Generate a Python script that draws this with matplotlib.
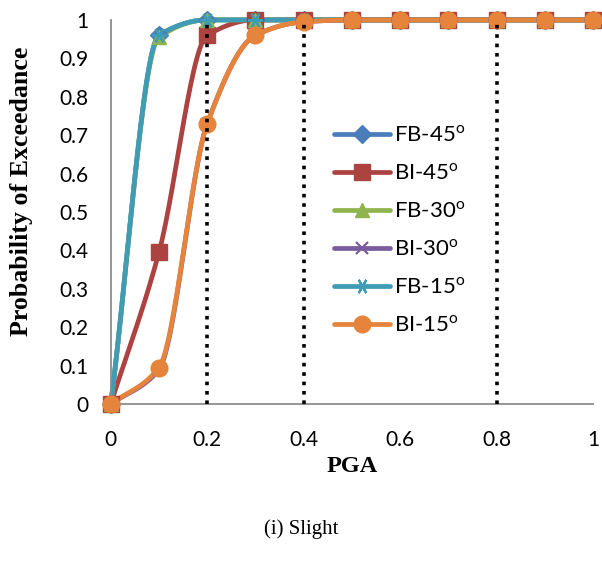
import numpy as np
import matplotlib.pyplot as plt

# ---data-------------------------------------------------------------
pga = [0.0, 0.1, 0.2, 0.3, 0.4, 0.5, 0.6, 0.7, 0.8, 0.9, 1.0]
fb_45 = [0.0, 0.96, 1.0, 1.0, 1.0, 1.0, 1.0, 1.0, 1.0, 1.0, 1.0]
bi_45 = [0.0, 0.395, 0.96, 1.0, 1.0, 1.0, 1.0, 1.0, 1.0, 1.0, 1.0]
fb_30 = [0.0, 0.955, 1.0, 1.0, 1.0, 1.0, 1.0, 1.0, 1.0, 1.0, 1.0]
bi_30 = [0.0, 0.09, 0.73, 0.96, 0.995, 1.0, 1.0, 1.0, 1.0, 1.0, 1.0]
fb_15 = [0.0, 0.96, 1.0, 1.0, 1.0, 1.0, 1.0, 1.0, 1.0, 1.0, 1.0]
bi_15 = [0.0, 0.095, 0.73, 0.96, 0.995, 1.0, 1.0, 1.0, 1.0, 1.0, 1.0]
labels = ["FB-45", "BI-45", "FB-30", "BI-30", "FB-15", "BI-15"]
damage_lines = [0.2, 0.4, 0.8]

series = [fb_45, bi_45, fb_30, bi_30, fb_15, bi_15]
colours = ["#4A7EBB", "#AC4341", "#8EB34F", "#7A5C9E", "#3F9CB4", "#E5843A"]
asterisk = (6, 2, 90)
markers = ["D", "s", "^", "x", asterisk, "o"]
sizes = [9, 11, 10, 9, 11, 12]


def smooth(x, y, n=30):
    # smoothed line through the points, monotone so it does not overshoot
    x = np.asarray(x, dtype=float)
    y = np.asarray(y, dtype=float)
    h = np.diff(x)
    d = np.diff(y) / h
    m = np.zeros_like(y)
    m[0], m[-1] = d[0], d[-1]
    for i in range(1, len(x) - 1):
        if d[i - 1] * d[i] <= 0:
            m[i] = 0
        else:
            m[i] = 2 / (1 / d[i - 1] + 1 / d[i])
    xs, ys = [], []
    t = np.linspace(0, 1, n)
    for i in range(len(x) - 1):
        h00 = 2 * t ** 3 - 3 * t ** 2 + 1
        h10 = t ** 3 - 2 * t ** 2 + t
        h01 = -2 * t ** 3 + 3 * t ** 2
        h11 = t ** 3 - t ** 2
        xs.extend(x[i] + t * h[i])
        ys.extend(h00 * y[i] + h10 * h[i] * m[i] + h01 * y[i + 1] + h11 * h[i] * m[i + 1])
    return xs, ys


fig = plt.figure(figsize=(6.02, 5.69), dpi=100)
ax = fig.add_axes([0.184, 0.29, 0.801, 0.675])

# dotted damage-state lines sit on top of the curves
for xv in damage_lines:
    ax.plot([xv, xv], [0, 1], color="black", linestyle=(0, (1, 1.6)), lw=2.6, zorder=5)

handles = []
for vals, col, mk, ms, lab in zip(series, colours, markers, sizes, labels):
    sx, sy = smooth(pga, vals)
    ax.plot(sx, sy, color=col, lw=3.4, zorder=2, solid_capstyle="round")
    mew = 1.6 if mk in ("x", asterisk) else 1
    ax.plot(pga, vals, linestyle="none", marker=mk, color=col, markersize=ms,
            markeredgewidth=mew, zorder=3)
    h, = ax.plot([], [], color=col, lw=3.4, marker=mk, markersize=ms,
                 markeredgewidth=mew, solid_capstyle="round",
                 label=lab + r"$^\mathregular{o}$")
    handles.append(h)

ax.set_xlim(0, 1)
ax.set_ylim(0, 1)
ax.set_xticks(np.arange(0, 1.01, 0.2))
ax.set_xticklabels(["0", "0.2", "0.4", "0.6", "0.8", "1"])
ax.set_yticks(np.arange(0, 1.01, 0.1))
ax.set_yticklabels(["0"] + ["%.1f" % v for v in np.arange(0.1, 0.95, 0.1)] + ["1"])
for lab in ax.get_xticklabels() + ax.get_yticklabels():
    lab.set_fontfamily("Lato")
    lab.set_fontsize(15)
ax.tick_params(length=0)
ax.tick_params(axis="x", pad=19)
ax.tick_params(axis="y", pad=16)
for side in ["top", "right"]:
    ax.spines[side].set_visible(False)
for side in ["left", "bottom"]:
    ax.spines[side].set_color("#8C8C8C")
    ax.spines[side].set_linewidth(1.3)
for h in ax.lines:
    h.set_clip_on(False)

ax.set_xlabel("PGA", fontfamily="Liberation Serif", fontweight="bold", fontsize=17.5, labelpad=4)
ax.set_ylabel("Probability of Exceedance", fontfamily="Liberation Serif",
              fontweight="bold", fontsize=18.6)
ax.yaxis.set_label_coords(-0.162, 0.555)

leg = ax.legend(handles=handles, loc="upper left", bbox_to_anchor=(0.445, 0.75),
                frameon=False, prop={"family": "Lato", "size": 16},
                handlelength=2.5, handletextpad=0.2, labelspacing=0.78,
                borderaxespad=0)

fig.text(0.5, 0.062, "(i) Slight", ha="center", fontfamily="Liberation Serif", fontsize=15)

fig.savefig("out.png", dpi=100)
